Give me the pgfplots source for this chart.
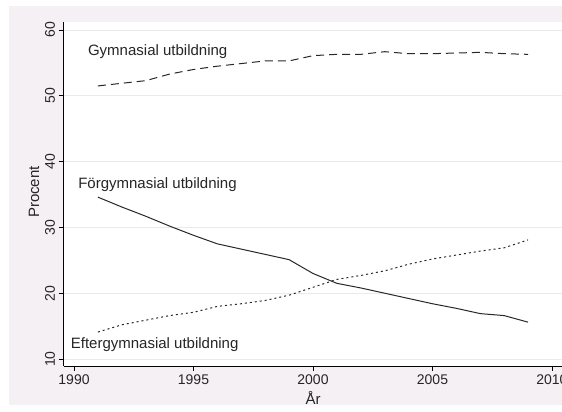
\documentclass[border=0pt]{standalone}
\usepackage{fontspec}
\setmainfont{Liberation Sans}
\usepackage{pgfplots}
\usepackage{pgfplotstable}
\pgfplotsset{compat=1.18}
\definecolor{bgpink}{RGB}{245,240,244}
\definecolor{gridgray}{RGB}{234,234,234}
\definecolor{linegray}{RGB}{40,40,40}

% andel (procent) per utbildningsniva
\pgfplotstableread{
year gym forgym eftgym
1991 51.5 34.6 14.1
1992 51.9 33.1 15.2
1993 52.3 31.7 15.9
1994 53.3 30.2 16.6
1995 54.0 28.8 17.1
1996 54.5 27.5 18.0
1997 54.9 26.7 18.4
1998 55.3 25.9 18.9
1999 55.3 25.1 19.7
2000 56.1 23.0 20.9
2001 56.3 21.5 22.1
2002 56.3 20.8 22.7
2003 56.7 20.0 23.4
2004 56.4 19.2 24.4
2005 56.4 18.4 25.2
2006 56.5 17.7 25.8
2007 56.6 16.9 26.4
2008 56.4 16.6 26.9
2009 56.3 15.6 28.1
}\edudata

\begin{document}
\begin{tikzpicture}[x=1pt,y=1pt]
\fill[white] (0,0) rectangle (562,412);
\fill[bgpink] (8.5,7) rectangle (562,406);
\begin{axis}[
    at={(63.5pt,46pt)}, anchor=south west,
    scale only axis, width=498.5pt, height=344.3pt,
    xmin=1989.56, xmax=2010.42, ymin=8.94, ymax=61.26,
    axis lines*=left,
    axis line style={-, black, line width=0.8pt},
    axis background/.style={fill=white},
    tick align=outside, major tick length=5pt,
    tick style={black, line width=0.8pt},
    xtick={1990,1995,...,2010}, ytick={10,20,...,60},
    ymajorgrids, grid style={gridgray, line width=0.8pt},
    /pgf/number format/assume math mode=true,
    /pgf/number format/1000 sep={},
    ticklabel style={font=\fontsize{14}{16}\selectfont, text=black!85},
    yticklabel style={rotate=90, anchor=south},
    xlabel={År}, ylabel={Procent},
    label style={font=\fontsize{15}{17}\selectfont, text=black!85},
    xlabel style={at={(axis description cs:0.5005,-0.093)}, anchor=center},
    ylabel style={at={(axis description cs:-0.059,0.505)}, anchor=center},
    every axis plot/.append style={linegray, line width=1pt, no markers},
    clip=false,
]
\addplot[dash pattern=on 8pt off 5pt] table[x=year, y=gym] {\edudata};
\addplot[solid] table[x=year, y=forgym] {\edudata};
\addplot[dash pattern=on 2pt off 3pt] table[x=year, y=eftgym] {\edudata};
\begin{scope}[every node/.style={font=\fontsize{15}{17}\selectfont, text=black!85, inner sep=0pt, anchor=west}]
\node at (axis cs:1990.58,56.70) {Gymnasial utbildning};
\node at (axis cs:1990.17,36.44) {Förgymnasial utbildning};
\node at (axis cs:1989.86,12.13) {Eftergymnasial utbildning};
\end{scope}
\end{axis}
\pgfresetboundingbox
\useasboundingbox (0,0) rectangle (562,412);
\end{tikzpicture}
\end{document}
